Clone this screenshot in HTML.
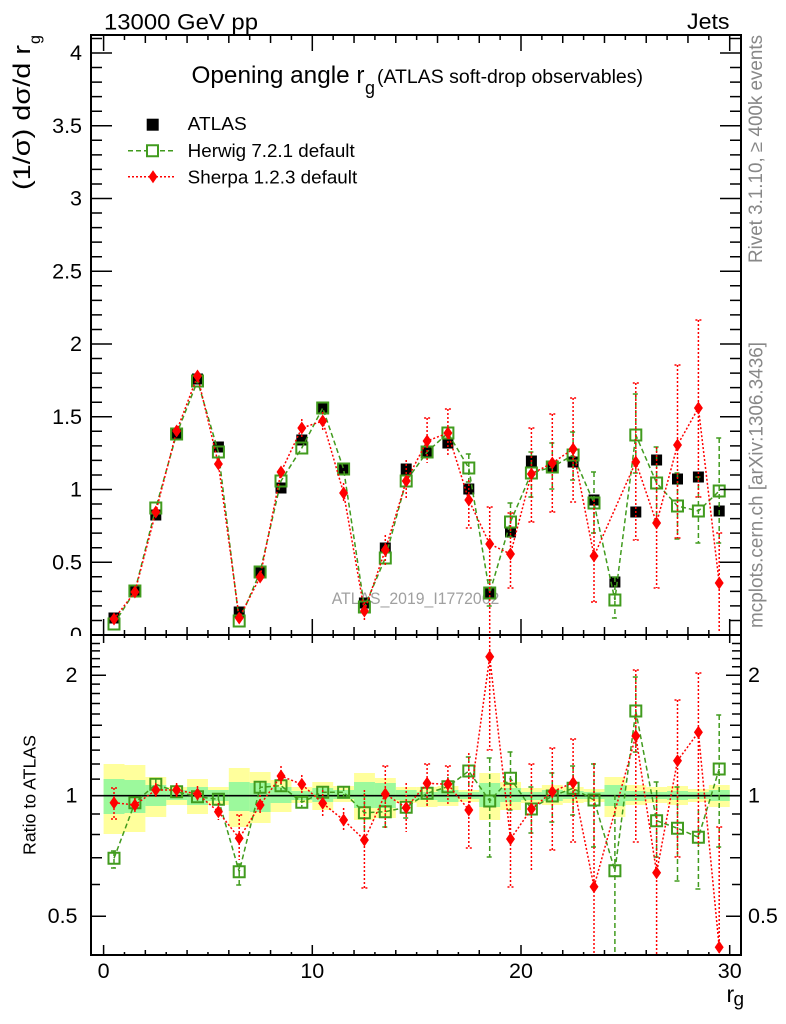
<!DOCTYPE html>
<html><head><meta charset="utf-8"><style>
html,body{margin:0;padding:0;background:#fff;}
svg{display:block;font-family:"Liberation Sans",Arial,sans-serif;}
</style></head><body>
<svg width="786" height="1024" viewBox="0 0 786 1024" xmlns="http://www.w3.org/2000/svg">
<defs>
<clipPath id="cm"><rect x="91" y="35" width="650" height="600"/></clipPath>
<clipPath id="cr"><rect x="91" y="635" width="650" height="320"/></clipPath>
</defs>
<rect width="786" height="1024" fill="#fff"/>

<!-- header texts -->
<text x="104" y="29.5" font-size="22.5" textLength="154" lengthAdjust="spacingAndGlyphs">13000 GeV pp</text>
<text x="687" y="29" font-size="22" textLength="42.5" lengthAdjust="spacingAndGlyphs">Jets</text>

<!-- main y tick labels -->
<g font-size="21.5" text-anchor="end">
<text x="82" y="642">0</text>
<text x="82" y="569.3">0.5</text>
<text x="82" y="496.5">1</text>
<text x="82" y="423.8">1.5</text>
<text x="82" y="351">2</text>
<text x="82" y="278.3">2.5</text>
<text x="82" y="205.5">3</text>
<text x="82" y="132.8">3.5</text>
<text x="82" y="60">4</text>
</g>

<!-- y label -->
<text transform="translate(30,190) rotate(-90)" font-size="24" textLength="145" lengthAdjust="spacingAndGlyphs">(1/σ) dσ/d r</text>
<text transform="translate(40,44) rotate(-90)" font-size="16">g</text>

<!-- right side vertical texts -->
<text transform="translate(762,263) rotate(-90)" font-size="19" fill="#888" textLength="228" lengthAdjust="spacingAndGlyphs">Rivet 3.1.10, ≥ 400k events</text>
<text transform="translate(762.5,628) rotate(-90)" font-size="19" fill="#888" textLength="286" lengthAdjust="spacingAndGlyphs">mcplots.cern.ch [arXiv:1306.3436]</text>

<!-- title -->
<text x="191.5" y="83" font-size="24" textLength="173" lengthAdjust="spacingAndGlyphs">Opening angle r</text>
<text x="365" y="94" font-size="18">g</text>
<text x="377" y="83" font-size="19" textLength="266" lengthAdjust="spacingAndGlyphs">(ATLAS soft-drop observables)</text>

<!-- analysis label -->
<text x="331.7" y="604" font-size="16.5" fill="#a0a0a0" textLength="167.6" lengthAdjust="spacingAndGlyphs">ATLAS_2019_I1772062</text>

<!-- legend -->
<path d="M146.7 118.7h12v12h-12z" fill="#000"/>
<text x="187.7" y="130" font-size="18.5" textLength="59" lengthAdjust="spacingAndGlyphs">ATLAS</text>
<path d="M128 150.7H176" stroke="#419b1e" stroke-width="1.5" stroke-dasharray="5,3" fill="none"/>
<path d="M147 145.2h11v11h-11z" fill="#fff" stroke="#419b1e" stroke-width="2"/>
<text x="187.7" y="157" font-size="18.5" textLength="167" lengthAdjust="spacingAndGlyphs">Herwig 7.2.1 default</text>
<path d="M128 176.7H176" stroke="#f00" stroke-width="1.5" stroke-dasharray="2,2" fill="none"/>
<path d="M153 170.2l4.5 6.5-4.5 6.5-4.5-6.5z" fill="#f00"/>
<text x="187.7" y="183.5" font-size="18.5" textLength="169.5" lengthAdjust="spacingAndGlyphs">Sherpa 1.2.3 default</text>

<!-- main data -->
<g clip-path="url(#cm)">
<path fill="#000" d="M108.5 612.5h11v11h-11zM129.4 585.5h11v11h-11zM150.3 509.5h11v11h-11zM171.1 429.5h11v11h-11zM192 373.5h11v11h-11zM212.9 441.5h11v11h-11zM233.7 606.5h11v11h-11zM254.6 567.5h11v11h-11zM275.5 482.5h11v11h-11zM296.3 434.5h11v11h-11zM317.2 403.5h11v11h-11zM338.1 463.5h11v11h-11zM358.9 597.5h11v11h-11zM379.8 542.5h11v11h-11zM400.7 463.5h11v11h-11zM421.6 446.5h11v11h-11zM442.4 437.5h11v11h-11zM463.3 483.5h11v11h-11zM484.2 587.5h11v11h-11zM505 526.5h11v11h-11zM525.9 455.5h11v11h-11zM546.8 460.5h11v11h-11zM567.6 456.5h11v11h-11zM588.5 494.5h11v11h-11zM609.4 576.5h11v11h-11zM630.3 506.5h11v11h-11zM651.1 454.5h11v11h-11zM672 473.5h11v11h-11zM692.9 471.5h11v11h-11zM713.7 505.5h11v11h-11z"/>
<!-- herwig -->
<polyline fill="none" stroke="#419b1e" stroke-width="1.5" stroke-dasharray="5,3" points="114,624 134.9,591 155.8,508 176.6,434 197.5,381 218.4,452 239.2,621 260.1,572 281,481 301.8,448 322.7,408 343.6,469 364.4,607 385.3,558 406.2,481 427.1,452 447.9,433 468.8,468 489.7,593 510.5,522 531.4,473 552.3,467 573.1,455 594,503 614.9,600 635.8,435 656.6,483 677.5,506 698.4,511 719.2,491"/>
<path fill="none" stroke="#419b1e" stroke-width="1.5" stroke-dasharray="5,3" d="M468.8 454V482M465.8 454h6M465.8 482h6M489.7 580V606M486.7 580h6M486.7 606h6M510.5 503V537M507.5 503h6M507.5 537h6M531.4 452V497M528.4 452h6M528.4 497h6M552.3 443V489M549.3 443h6M549.3 489h6M573.1 432V480M570.1 432h6M570.1 480h6M594 472V533M591 472h6M591 533h6M614.9 577V618M611.9 577h6M611.9 618h6M635.8 394V473M632.8 394h6M632.8 473h6M656.6 447V520M653.6 447h6M653.6 520h6M677.5 473V539M674.5 473h6M674.5 539h6M698.4 477V543M695.4 477h6M695.4 543h6M719.2 438V543M716.2 438h6M716.2 543h6"/>
<path fill="none" stroke="#419b1e" stroke-width="2" d="M108.5 618.5h11v11h-11zM129.4 585.5h11v11h-11zM150.3 502.5h11v11h-11zM171.1 428.5h11v11h-11zM192 375.5h11v11h-11zM212.9 446.5h11v11h-11zM233.7 615.5h11v11h-11zM254.6 566.5h11v11h-11zM275.5 475.5h11v11h-11zM296.3 442.5h11v11h-11zM317.2 402.5h11v11h-11zM338.1 463.5h11v11h-11zM358.9 601.5h11v11h-11zM379.8 552.5h11v11h-11zM400.7 475.5h11v11h-11zM421.6 446.5h11v11h-11zM442.4 427.5h11v11h-11zM463.3 462.5h11v11h-11zM484.2 587.5h11v11h-11zM505 516.5h11v11h-11zM525.9 467.5h11v11h-11zM546.8 461.5h11v11h-11zM567.6 449.5h11v11h-11zM588.5 497.5h11v11h-11zM609.4 594.5h11v11h-11zM630.3 429.5h11v11h-11zM651.1 477.5h11v11h-11zM672 500.5h11v11h-11zM692.9 505.5h11v11h-11zM713.7 485.5h11v11h-11z"/>
<!-- sherpa -->
<polyline fill="none" stroke="#f00" stroke-width="1.5" stroke-dasharray="2,2" points="114,619 134.9,592 155.8,512 176.6,431 197.5,376 218.4,464 239.2,618 260.1,577 281,472 301.8,428 322.7,421 343.6,493 364.4,611 385.3,550 406.2,481 427.1,441 447.9,433 468.8,500 489.7,544 510.5,554 531.4,474 552.3,463 573.1,449 594,556 635.8,462 656.6,523 677.5,445 698.4,408 719.2,583"/>
<path fill="none" stroke="#f00" stroke-width="1.5" stroke-dasharray="2,2" d="M301.8 419V437M322.7 412V430M343.6 483V503M364.4 602V620M385.3 535V567M406.2 460V500M427.1 418V463M424.1 418h6M447.9 409V456M444.9 409h6M468.8 480V528M465.8 528h6M489.7 507V635M486.7 507h6M510.5 513V588M507.5 513h6M507.5 588h6M531.4 428V522M528.4 428h6M528.4 522h6M552.3 414V512M549.3 414h6M549.3 512h6M573.1 398V502M570.1 398h6M570.1 502h6M594 500V602M591 602h6M635.8 383V540M632.8 383h6M632.8 540h6M656.6 447V588M653.6 588h6M677.5 365V538M674.5 365h6M674.5 538h6M698.4 320V497M695.4 320h6M695.4 497h6M719.2 533V632M716.2 533h6"/>
<path fill="#f00" d="M114 612.5l4.5 6.5-4.5 6.5-4.5-6.5zM134.9 585.5l4.5 6.5-4.5 6.5-4.5-6.5zM155.8 505.5l4.5 6.5-4.5 6.5-4.5-6.5zM176.6 424.5l4.5 6.5-4.5 6.5-4.5-6.5zM197.5 369.5l4.5 6.5-4.5 6.5-4.5-6.5zM218.4 457.5l4.5 6.5-4.5 6.5-4.5-6.5zM239.2 611.5l4.5 6.5-4.5 6.5-4.5-6.5zM260.1 570.5l4.5 6.5-4.5 6.5-4.5-6.5zM281 465.5l4.5 6.5-4.5 6.5-4.5-6.5zM301.8 421.5l4.5 6.5-4.5 6.5-4.5-6.5zM322.7 414.5l4.5 6.5-4.5 6.5-4.5-6.5zM343.6 486.5l4.5 6.5-4.5 6.5-4.5-6.5zM364.4 604.5l4.5 6.5-4.5 6.5-4.5-6.5zM385.3 543.5l4.5 6.5-4.5 6.5-4.5-6.5zM406.2 474.5l4.5 6.5-4.5 6.5-4.5-6.5zM427.1 434.5l4.5 6.5-4.5 6.5-4.5-6.5zM447.9 426.5l4.5 6.5-4.5 6.5-4.5-6.5zM468.8 493.5l4.5 6.5-4.5 6.5-4.5-6.5zM489.7 537.5l4.5 6.5-4.5 6.5-4.5-6.5zM510.5 547.5l4.5 6.5-4.5 6.5-4.5-6.5zM531.4 467.5l4.5 6.5-4.5 6.5-4.5-6.5zM552.3 456.5l4.5 6.5-4.5 6.5-4.5-6.5zM573.1 442.5l4.5 6.5-4.5 6.5-4.5-6.5zM594 549.5l4.5 6.5-4.5 6.5-4.5-6.5zM635.8 455.5l4.5 6.5-4.5 6.5-4.5-6.5zM656.6 516.5l4.5 6.5-4.5 6.5-4.5-6.5zM677.5 438.5l4.5 6.5-4.5 6.5-4.5-6.5zM698.4 401.5l4.5 6.5-4.5 6.5-4.5-6.5zM719.2 576.5l4.5 6.5-4.5 6.5-4.5-6.5z"/>
</g>

<!-- main frame & ticks -->
<rect x="91" y="35" width="650" height="600" fill="none" stroke="#000" stroke-width="2"/>
<path fill="none" stroke="#000" stroke-width="1.5" d="M91 620.45h11M91 605.9h11M91 591.35h11M91 576.8h11M91 562.25h21M91 547.7h11M91 533.15h11M91 518.6h11M91 504.05h11M91 489.5h21M91 474.95h11M91 460.4h11M91 445.85h11M91 431.3h11M91 416.75h21M91 402.2h11M91 387.65h11M91 373.1h11M91 358.55h11M91 344h21M91 329.45h11M91 314.9h11M91 300.35h11M91 285.8h11M91 271.25h21M91 256.7h11M91 242.15h11M91 227.6h11M91 213.05h11M91 198.5h21M91 183.95h11M91 169.4h11M91 154.85h11M91 140.3h11M91 125.75h21M91 111.2h11M91 96.65h11M91 82.1h11M91 67.55h11M91 53h21M91 38.45h11
M741 620.45h-11M741 605.9h-11M741 591.35h-11M741 576.8h-11M741 562.25h-21M741 547.7h-11M741 533.15h-11M741 518.6h-11M741 504.05h-11M741 489.5h-21M741 474.95h-11M741 460.4h-11M741 445.85h-11M741 431.3h-11M741 416.75h-21M741 402.2h-11M741 387.65h-11M741 373.1h-11M741 358.55h-11M741 344h-21M741 329.45h-11M741 314.9h-11M741 300.35h-11M741 285.8h-11M741 271.25h-21M741 256.7h-11M741 242.15h-11M741 227.6h-11M741 213.05h-11M741 198.5h-21M741 183.95h-11M741 169.4h-11M741 154.85h-11M741 140.3h-11M741 125.75h-21M741 111.2h-11M741 96.65h-11M741 82.1h-11M741 67.55h-11M741 53h-21M741 38.45h-11
M103.6 635v-16M124.47 635v-5M145.34 635v-8M166.21 635v-5M187.08 635v-8M207.95 635v-5M228.82 635v-8M249.69 635v-5M270.56 635v-8M291.43 635v-5M312.3 635v-16M333.17 635v-5M354.04 635v-8M374.91 635v-5M395.78 635v-8M416.65 635v-5M437.52 635v-8M458.39 635v-5M479.26 635v-8M500.13 635v-5M521 635v-16M541.87 635v-5M562.74 635v-8M583.61 635v-5M604.48 635v-8M625.35 635v-5M646.22 635v-8M667.09 635v-5M687.96 635v-8M708.83 635v-5M729.7 635v-16
M103.6 35v16M124.47 35v5M145.34 35v8M166.21 35v5M187.08 35v8M207.95 35v5M228.82 35v8M249.69 35v5M270.56 35v8M291.43 35v5M312.3 35v16M333.17 35v5M354.04 35v8M374.91 35v5M395.78 35v8M416.65 35v5M437.52 35v8M458.39 35v5M479.26 35v8M500.13 35v5M521 35v16M541.87 35v5M562.74 35v8M583.61 35v5M604.48 35v8M625.35 35v5M646.22 35v8M667.09 35v5M687.96 35v8M708.83 35v5M729.7 35v16"/>

<!-- ratio pad background -->
<rect x="0" y="636" width="786" height="388" fill="#fff"/>

<!-- bands -->
<g clip-path="url(#cr)">
<g fill="#ffff9c">
<rect x="103.6" y="764" width="20.9" height="70"/><rect x="124.47" y="765" width="20.9" height="67"/><rect x="145.34" y="777" width="20.9" height="40"/><rect x="166.21" y="787" width="20.9" height="18"/><rect x="187.08" y="779" width="20.9" height="35"/><rect x="207.95" y="787" width="20.9" height="18"/><rect x="228.82" y="768" width="20.9" height="59"/><rect x="249.69" y="772" width="20.9" height="51"/><rect x="270.56" y="780" width="20.9" height="32"/><rect x="291.43" y="787" width="20.9" height="16"/><rect x="312.3" y="782" width="20.9" height="28"/><rect x="333.17" y="786" width="20.9" height="16"/><rect x="354.04" y="773" width="20.9" height="47"/><rect x="374.91" y="778" width="20.9" height="40"/><rect x="395.78" y="787" width="20.9" height="16"/><rect x="416.65" y="787" width="20.9" height="20"/><rect x="437.52" y="786" width="20.9" height="20"/><rect x="458.39" y="790" width="20.9" height="12"/><rect x="479.26" y="773" width="20.9" height="47"/><rect x="500.13" y="782" width="20.9" height="28"/><rect x="521" y="788" width="20.9" height="15"/><rect x="541.87" y="785" width="20.9" height="20"/><rect x="562.74" y="787" width="20.9" height="16"/><rect x="583.61" y="789" width="20.9" height="13"/><rect x="604.48" y="777" width="20.9" height="40"/><rect x="625.35" y="785" width="20.9" height="20"/><rect x="646.22" y="787" width="20.9" height="16"/><rect x="667.09" y="786" width="20.9" height="19"/><rect x="687.96" y="789" width="20.9" height="13"/><rect x="708.83" y="785" width="20.9" height="22"/>
</g>
<g fill="#9cf99c">
<rect x="103.6" y="779" width="20.9" height="35"/><rect x="124.47" y="780" width="20.9" height="33"/><rect x="145.34" y="785" width="20.9" height="21"/><rect x="166.21" y="790" width="20.9" height="10"/><rect x="187.08" y="787" width="20.9" height="18"/><rect x="207.95" y="790" width="20.9" height="11"/><rect x="228.82" y="782" width="20.9" height="29"/><rect x="249.69" y="783" width="20.9" height="29"/><rect x="270.56" y="787" width="20.9" height="16"/><rect x="291.43" y="791" width="20.9" height="9"/><rect x="312.3" y="788" width="20.9" height="14"/><rect x="333.17" y="790" width="20.9" height="9"/><rect x="354.04" y="782" width="20.9" height="26"/><rect x="374.91" y="783" width="20.9" height="25"/><rect x="395.78" y="790" width="20.9" height="10"/><rect x="416.65" y="792" width="20.9" height="8"/><rect x="437.52" y="790" width="20.9" height="12"/><rect x="458.39" y="792" width="20.9" height="7"/><rect x="479.26" y="783" width="20.9" height="24"/><rect x="500.13" y="788" width="20.9" height="14"/><rect x="521" y="792" width="20.9" height="8"/><rect x="541.87" y="790" width="20.9" height="11"/><rect x="562.74" y="791" width="20.9" height="8"/><rect x="583.61" y="792" width="20.9" height="7"/><rect x="604.48" y="785" width="20.9" height="21"/><rect x="625.35" y="791" width="20.9" height="10"/><rect x="646.22" y="792" width="20.9" height="7"/><rect x="667.09" y="791" width="20.9" height="9"/><rect x="687.96" y="792" width="20.9" height="7"/><rect x="708.83" y="790" width="20.9" height="11"/>
</g>
<path d="M91 795.7H741" stroke="#000" stroke-width="1.6"/>

<!-- herwig ratio -->
<polyline fill="none" stroke="#419b1e" stroke-width="1.5" stroke-dasharray="5,3" points="114,858.3 134.9,802.7 155.8,784.3 176.6,791.7 197.5,796.7 218.4,799.3 239.2,871.7 260.1,787.3 281,785.7 301.8,802.3 322.7,792.3 343.6,792.3 364.4,812.7 385.3,811.7 406.2,807.3 427.1,793.3 447.9,786.7 468.8,771 489.7,801 510.5,778.3 531.4,809 552.3,796 573.1,788.3 594,800 614.9,870.7 635.8,711 656.6,820.7 677.5,828.3 698.4,837.3 719.2,769"/>
<path fill="none" stroke="#419b1e" stroke-width="1.5" stroke-dasharray="5,3" d="M114 851V868M111 851h6M111 868h6M134.9 797V808M155.8 778V790M176.6 787V796M197.5 792V801M218.4 795V803M239.2 864V885M236.2 864h6M236.2 885h6M260.1 782V792M281 780V791M301.8 797V808M322.7 786V798M343.6 786V798M364.4 793V830M385.3 797V827M382.3 827h6M406.2 802V818M403.2 818h6M427.1 787V805M447.9 777V797M468.8 757V785M465.8 757h6M489.7 758V857M486.7 758h6M486.7 857h6M510.5 752V810M507.5 752h6M507.5 810h6M531.4 787V833M528.4 787h6M528.4 833h6M552.3 773V822M549.3 773h6M549.3 822h6M573.1 766V815M570.1 766h6M570.1 815h6M594 764V847M591 764h6M591 847h6M614.9 795V955M635.8 677V752M632.8 677h6M632.8 752h6M656.6 782V857M653.6 782h6M653.6 857h6M677.5 787V881M674.5 787h6M674.5 881h6M698.4 810V889M695.4 889h6M719.2 715V847M716.2 715h6M716.2 847h6"/>
<path fill="none" stroke="#419b1e" stroke-width="2" d="M108.5 852.8h11v11h-11zM129.4 797.2h11v11h-11zM150.3 778.8h11v11h-11zM171.1 786.2h11v11h-11zM192 791.2h11v11h-11zM212.9 793.8h11v11h-11zM233.7 866.2h11v11h-11zM254.6 781.8h11v11h-11zM275.5 780.2h11v11h-11zM296.3 796.8h11v11h-11zM317.2 786.8h11v11h-11zM338.1 786.8h11v11h-11zM358.9 807.2h11v11h-11zM379.8 806.2h11v11h-11zM400.7 801.8h11v11h-11zM421.6 787.8h11v11h-11zM442.4 781.2h11v11h-11zM463.3 765.5h11v11h-11zM484.2 795.5h11v11h-11zM505 772.8h11v11h-11zM525.9 803.5h11v11h-11zM546.8 790.5h11v11h-11zM567.6 782.8h11v11h-11zM588.5 794.5h11v11h-11zM609.4 865.2h11v11h-11zM630.3 705.5h11v11h-11zM651.1 815.2h11v11h-11zM672 822.8h11v11h-11zM692.9 831.8h11v11h-11zM713.7 763.5h11v11h-11z"/>

<!-- sherpa ratio -->
<polyline fill="none" stroke="#f00" stroke-width="1.5" stroke-dasharray="2,2" points="114,802.7 134.9,805 155.8,790 176.6,790 197.5,794 218.4,811.7 239.2,838.3 260.1,805 281,776 301.8,784.3 322.7,803.3 343.6,820 364.4,840 385.3,794 406.2,807.7 427.1,783.3 447.9,784.3 468.8,810 489.7,656.7 510.5,839 531.4,809 552.3,791.7 573.1,782.7 594,886.7 635.8,736 656.6,872.7 677.5,760.7 698.4,732.3 719.2,947.3"/>
<path fill="none" stroke="#f00" stroke-width="1.5" stroke-dasharray="2,2" d="M114 788V819M111 788h6M111 819h6M134.9 798V812M155.8 783V797M176.6 783V797M197.5 786V802M218.4 803V820M239.2 815V860M236.2 815h6M260.1 795V815M281 766V786M301.8 775V793M322.7 790V816M343.6 808V832M364.4 790V888M361.4 888h6M385.3 766V828M382.3 766h6M406.2 783V832M427.1 764V807M424.1 764h6M447.9 766V805M444.9 766h6M468.8 753V848M465.8 848h6M489.7 637V750M486.7 750h6M510.5 780V887M507.5 887h6M531.4 764V870M528.4 764h6M552.3 748V850M549.3 748h6M549.3 850h6M573.1 739V842M570.1 739h6M570.1 842h6M594 763V955M635.8 670V842M632.8 670h6M632.8 842h6M656.6 796V955M677.5 700V857M674.5 700h6M674.5 857h6M698.4 673V846M695.4 673h6M719.2 827V955M716.2 827h6"/>
<path fill="#f00" d="M114 796.2l4.5 6.5-4.5 6.5-4.5-6.5zM134.9 798.5l4.5 6.5-4.5 6.5-4.5-6.5zM155.8 783.5l4.5 6.5-4.5 6.5-4.5-6.5zM176.6 783.5l4.5 6.5-4.5 6.5-4.5-6.5zM197.5 787.5l4.5 6.5-4.5 6.5-4.5-6.5zM218.4 805.2l4.5 6.5-4.5 6.5-4.5-6.5zM239.2 831.8l4.5 6.5-4.5 6.5-4.5-6.5zM260.1 798.5l4.5 6.5-4.5 6.5-4.5-6.5zM281 769.5l4.5 6.5-4.5 6.5-4.5-6.5zM301.8 777.8l4.5 6.5-4.5 6.5-4.5-6.5zM322.7 796.8l4.5 6.5-4.5 6.5-4.5-6.5zM343.6 813.5l4.5 6.5-4.5 6.5-4.5-6.5zM364.4 833.5l4.5 6.5-4.5 6.5-4.5-6.5zM385.3 787.5l4.5 6.5-4.5 6.5-4.5-6.5zM406.2 801.2l4.5 6.5-4.5 6.5-4.5-6.5zM427.1 776.8l4.5 6.5-4.5 6.5-4.5-6.5zM447.9 777.8l4.5 6.5-4.5 6.5-4.5-6.5zM468.8 803.5l4.5 6.5-4.5 6.5-4.5-6.5zM489.7 650.2l4.5 6.5-4.5 6.5-4.5-6.5zM510.5 832.5l4.5 6.5-4.5 6.5-4.5-6.5zM531.4 802.5l4.5 6.5-4.5 6.5-4.5-6.5zM552.3 785.2l4.5 6.5-4.5 6.5-4.5-6.5zM573.1 776.2l4.5 6.5-4.5 6.5-4.5-6.5zM594 880.2l4.5 6.5-4.5 6.5-4.5-6.5zM635.8 729.5l4.5 6.5-4.5 6.5-4.5-6.5zM656.6 866.2l4.5 6.5-4.5 6.5-4.5-6.5zM677.5 754.2l4.5 6.5-4.5 6.5-4.5-6.5zM698.4 725.8l4.5 6.5-4.5 6.5-4.5-6.5zM719.2 940.8l4.5 6.5-4.5 6.5-4.5-6.5z"/>
</g>

<!-- ratio frame & ticks -->
<rect x="91" y="635" width="650" height="320" fill="none" stroke="#000" stroke-width="2"/>
<path fill="none" stroke="#000" stroke-width="1.5" d="M91 916.2h15M91 884.5h9M91 857.7h11M91 834.5h9M91 814h9M91 795.7h15M91 779.1h9M91 764h9M91 750.1h9M91 737.2h9M91 725.2h11M91 714h9M91 703.5h9M91 693.5h9M91 684.1h9M91 675.2h15M91 666.7h9M91 658.6h9M91 650.9h9M91 643.5h9
M741 916.2h-15M741 884.5h-9M741 857.7h-11M741 834.5h-9M741 814h-9M741 795.7h-15M741 779.1h-9M741 764h-9M741 750.1h-9M741 737.2h-9M741 725.2h-11M741 714h-9M741 703.5h-9M741 693.5h-9M741 684.1h-9M741 675.2h-15M741 666.7h-9M741 658.6h-9M741 650.9h-9M741 643.5h-9
M103.6 955v-10M124.47 955v-3M145.34 955v-5M166.21 955v-3M187.08 955v-5M207.95 955v-3M228.82 955v-5M249.69 955v-3M270.56 955v-5M291.43 955v-3M312.3 955v-10M333.17 955v-3M354.04 955v-5M374.91 955v-3M395.78 955v-5M416.65 955v-3M437.52 955v-5M458.39 955v-3M479.26 955v-5M500.13 955v-3M521 955v-10M541.87 955v-3M562.74 955v-5M583.61 955v-3M604.48 955v-5M625.35 955v-3M646.22 955v-5M667.09 955v-3M687.96 955v-5M708.83 955v-3M729.7 955v-10
M103.6 635v8M124.47 635v3M145.34 635v5M166.21 635v3M187.08 635v5M207.95 635v3M228.82 635v5M249.69 635v3M270.56 635v5M291.43 635v3M312.3 635v8M333.17 635v3M354.04 635v5M374.91 635v3M395.78 635v5M416.65 635v3M437.52 635v5M458.39 635v3M479.26 635v5M500.13 635v3M521 635v8M541.87 635v3M562.74 635v5M583.61 635v3M604.48 635v5M625.35 635v3M646.22 635v5M667.09 635v3M687.96 635v5M708.83 635v3M729.7 635v8"/>

<!-- ratio labels -->
<g font-size="21.5">
<text x="77.5" y="682.2" text-anchor="end">2</text>
<text x="77.5" y="802.7" text-anchor="end">1</text>
<text x="77.5" y="923.2" text-anchor="end">0.5</text>
<text x="748" y="682.2">2</text>
<text x="748" y="802.7">1</text>
<text x="748" y="923.2">0.5</text>
</g>
<text transform="translate(35.5,855) rotate(-90)" font-size="17.5" textLength="120" lengthAdjust="spacingAndGlyphs">Ratio to ATLAS</text>

<!-- x labels -->
<g font-size="21.5" text-anchor="middle">
<text x="103.6" y="978">0</text>
<text x="312.3" y="978">10</text>
<text x="521" y="978">20</text>
<text x="729.7" y="978">30</text>
</g>
<text x="726.5" y="1002" font-size="23">r</text>
<text x="733.5" y="1005.5" font-size="19">g</text>
</svg>
</body></html>
